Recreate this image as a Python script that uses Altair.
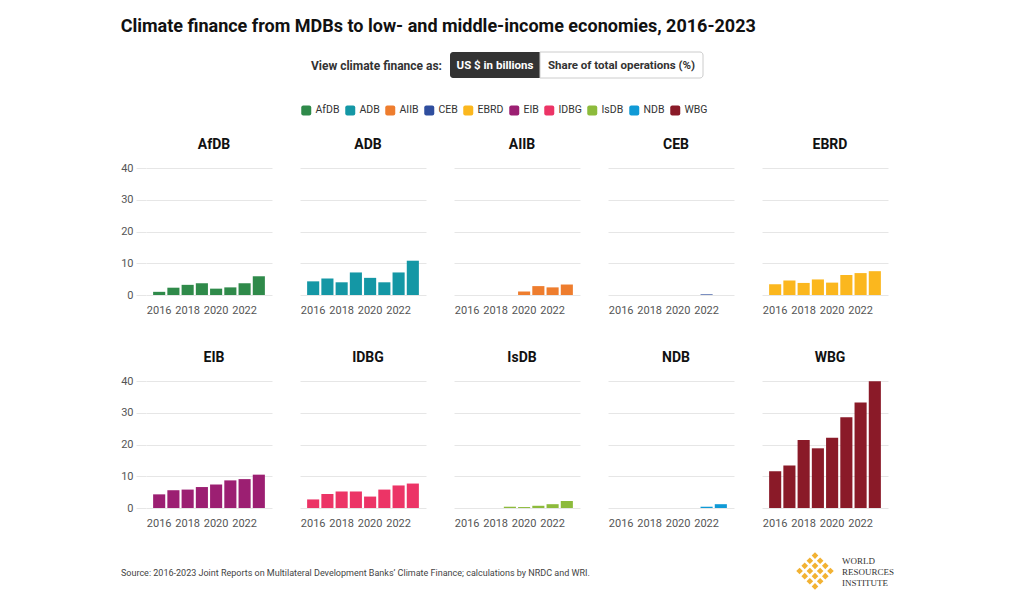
import altair as alt
import pandas as pd

# ---------------- data ----------------
banks = ["AfDB", "ADB", "AIIB", "CEB", "EBRD", "EIB", "IDBG", "IsDB", "NDB", "WBG"]
colors = ["#2f8a4a", "#1497a5", "#ee7d2e", "#2f4e9e", "#fbb71e",
          "#9c1f72", "#ec3466", "#8dbb3c", "#109ad6", "#8a1a28"]
years = [2016, 2017, 2018, 2019, 2020, 2021, 2022, 2023]
axis_years = [2016, 2018, 2020, 2022]
y_ticks = [0, 10, 20, 30, 40]

afdb = [1.0, 2.3, 3.2, 3.7, 2.0, 2.4, 3.7, 5.9]
adb = [4.3, 5.2, 4.0, 7.1, 5.4, 4.0, 7.1, 10.8]
aiib = [0.0, 0.0, 0.0, 0.0, 1.1, 2.8, 2.4, 3.3]
ceb = [0.0, 0.0, 0.0, 0.0, 0.0, 0.0, 0.2, 0.0]
ebrd = [3.4, 4.6, 3.8, 4.9, 3.9, 6.3, 6.9, 7.5]
eib = [4.3, 5.6, 5.8, 6.6, 7.4, 8.7, 9.1, 10.5]
idbg = [2.7, 4.4, 5.2, 5.2, 3.6, 5.8, 7.1, 7.7]
isdb = [0.0, 0.0, 0.0, 0.4, 0.3, 0.7, 1.2, 2.2]
ndb = [0.0, 0.0, 0.0, 0.0, 0.0, 0.0, 0.4, 1.2]
wbg = [11.6, 13.4, 21.4, 18.8, 22.1, 28.6, 33.2, 39.9]

series = [afdb, adb, aiib, ceb, ebrd, eib, idbg, isdb, ndb, wbg]

title_text = "Climate finance from MDBs to low- and middle-income economies, 2016-2023"
prompt_text = "View climate finance as:"
toggle_labels = ["US $ in billions", "Share of total operations (%)"]
source_text = "Source: 2016-2023 Joint Reports on Multilateral Development Banks\u2019 Climate Finance; calculations by NRDC and WRI."
logo_lines = ["WORLD", "RESOURCES", "INSTITUTE"]

rows = []
for b, vals in zip(banks, series):
    for yr, v in zip(years, vals):
        rows.append({"bank": b, "year": yr, "value": v})
df = pd.DataFrame(rows)

# ---------------- styles ----------------
FONT = "Roboto"
GRID = "#e6e6e6"
LABEL = "#555555"
PW, PH = 126, 127

# rounded square legend symbol
ROUNDED = ("M-0.6,-1 L0.6,-1 Q1,-1 1,-0.6 L1,0.6 Q1,1 0.6,1 L-0.6,1 "
           "Q-1,1 -1,0.6 L-1,-0.6 Q-1,-1 -0.6,-1 Z")

legend = alt.Legend(
    title=None, orient="none", direction="horizontal",
    legendX=155, legendY=53,
    symbolType=ROUNDED, symbolSize=100, symbolStrokeWidth=0, symbolOpacity=1,
    labelFont=FONT, labelFontSize=10.5, labelColor="#333333",
    labelOffset=4, columnPadding=5,
)


def panel(bank, col):
    show = col == 0
    return (
        alt.Chart(df)
        .transform_filter(alt.datum.bank == bank)
        .mark_bar()
        .encode(
            x=alt.X("year:O", title=None,
                    scale=alt.Scale(paddingInner=0.15, paddingOuter=0.5),
                    axis=alt.Axis(values=axis_years, labelAngle=0, ticks=False,
                                  domain=False, grid=False, labelPadding=9,
                                  labelFont=FONT, labelFontSize=11, labelColor=LABEL)),
            y=alt.Y("value:Q", title=None, scale=alt.Scale(domain=[0, 40]),
                    axis=alt.Axis(values=y_ticks, grid=True, gridColor=GRID,
                                  domain=False, ticks=show, tickColor=GRID,
                                  tickSize=10, labels=show, labelPadding=3,
                                  labelFont=FONT, labelFontSize=11, labelColor=LABEL)),
            color=alt.Color("bank:N", scale=alt.Scale(domain=banks, range=colors),
                            legend=legend),
        )
        .properties(
            width=PW, height=PH,
            title=alt.TitleParams(bank, font=FONT, fontSize=14, fontWeight="bold",
                                  color="#111111", anchor="middle", frame="group",
                                  dx=5, offset=10 if show else 16),
        )
    )


row1 = alt.hconcat(*[panel(b, i) for i, b in enumerate(banks[:5])], spacing=28)
row2 = alt.hconcat(*[panel(b, i) for i, b in enumerate(banks[5:])], spacing=28)
grid_rows = alt.vconcat(row1, row2, spacing=36)

# ---------------- header (toggle) ----------------
one = alt.Chart(pd.DataFrame({"k": [0]}))
btn_on = one.mark_rect(color="#333333", cornerRadiusTopLeft=3,
                       cornerRadiusBottomLeft=3).encode(
    x=alt.value(304), x2=alt.value(394), y=alt.value(0), y2=alt.value(26))
btn_off = one.mark_rect(fill="white", stroke="#cccccc", strokeWidth=1,
                        cornerRadiusTopRight=3, cornerRadiusBottomRight=3).encode(
    x=alt.value(394), x2=alt.value(557), y=alt.value(0), y2=alt.value(26))
t_prompt = one.mark_text(text=prompt_text, align="right", baseline="middle",
                         font=FONT, fontSize=12, fontWeight="bold", color="#333333").encode(
    x=alt.value(296), y=alt.value(13.5))
t_on = one.mark_text(text=toggle_labels[0], align="center", baseline="middle",
                     font=FONT, fontSize=11.5, fontWeight="bold", color="white").encode(
    x=alt.value(349), y=alt.value(13.5))
t_off = one.mark_text(text=toggle_labels[1], align="center", baseline="middle",
                      font=FONT, fontSize=11.5, fontWeight="bold", color="#333333").encode(
    x=alt.value(475.5), y=alt.value(13.5))
header = alt.layer(btn_on, btn_off, t_prompt, t_on, t_off).properties(width=742, height=62)

# ---------------- footer ----------------
# lattice-like logo glyph built from small diamonds
parts = []
for u in [-0.75, -0.25, 0.25, 0.75]:
    for v in [-0.75, -0.25, 0.25, 0.75]:
        cx, cy = (u - v) * 0.62, (u + v) * 0.62
        d = 0.2
        parts.append(f"M{cx:.3f},{cy-d:.3f} L{cx+d:.3f},{cy:.3f} L{cx:.3f},{cy+d:.3f} L{cx-d:.3f},{cy:.3f} Z")
LOGO = " ".join(parts)

t_source = one.mark_text(text=source_text, align="left", baseline="middle",
                         font=FONT, fontSize=9, color="#444444").encode(
    x=alt.value(-25), y=alt.value(19))
logo = one.mark_point(shape=LOGO, filled=True, color="#f2b233", size=1100, opacity=1).encode(
    x=alt.value(669), y=alt.value(17))
logo_txt = [
    one.mark_text(text=line, align="left", baseline="middle",
                  font="Liberation Serif", fontSize=9, color="#333333").encode(
        x=alt.value(696), y=alt.value(yy))
    for line, yy in zip(logo_lines, [7, 18, 29])
]
footer = alt.layer(t_source, logo, *logo_txt).properties(width=742, height=36)

chart = (
    alt.vconcat(header, grid_rows, footer, spacing=24)
    .properties(
        title=alt.TitleParams(title_text, anchor="start", font=FONT, fontSize=18,
                              fontWeight="bold", color="#111111", offset=16),
        padding={"left": 120, "top": 17, "right": 10, "bottom": 5},
        background="white",
    )
    .configure_view(stroke=None)
)

chart.save("out.html", embed_options={"renderer": "svg", "actions": False})
